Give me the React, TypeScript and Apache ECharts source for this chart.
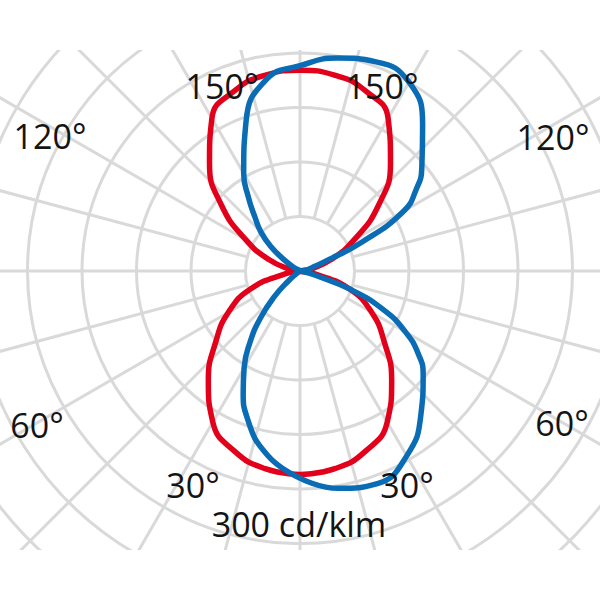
import { useEffect, useRef } from "react";
import * as echarts from "echarts";

// radial rings (cd/klm) and spoke angles (deg, 0 = downwards, clockwise)
const ringValues = [60, 120, 180, 240, 300, 360, 420, 480];
const spokeAngles = [0, 15, 30, 45, 60, 75, 90, 105, 120, 135, 150, 165, 180, 195, 210, 225, 240, 255, 270, 285, 300, 315, 330, 345];

// C0-C180 plane (red)
const redAngles = [0, 10, 20, 30, 40, 50, 60, 70, 80, 90, 100, 110, 120, 130, 140, 150, 160, 170, 180, 190, 200, 210, 220, 230, 240, 250, 260, 270, 280, 290, 300, 310, 320, 330, 340, 350];
const redValues = [224, 221, 211, 192, 157, 121, 91, 58, 15, 0, 11, 36, 69, 113, 155, 194, 211, 219, 221, 219, 211, 194, 155, 113, 69, 36, 11, 0, 15, 58, 91, 121, 157, 192, 211, 221];

// C90-C270 plane (blue)
const blueAngles = [0, 10, 20, 25, 30, 35, 40, 45, 50, 55, 60, 90, 115, 120, 125, 130, 135, 140, 145, 150, 160, 170, 180, 190, 200, 210, 220, 230, 235, 240, 245, 250, 255, 260, 270, 280, 285, 290, 295, 300, 305, 310, 320, 330, 340, 350];
const blueValues = [228, 206, 171, 148, 123, 96, 68, 40, 15, 4, 0, 0, 0, 6, 20, 42, 61, 77, 99, 124, 174, 214, 226, 238, 245, 240, 210, 175, 156, 132, 75, 26, 13, 9, 3, 4, 15, 59, 102, 134, 159, 177, 207, 235, 249, 243];

// angle labels and unit label
const angleLabelTexts = ["150°", "150°", "120°", "120°", "60°", "60°", "30°", "30°"];
const unitLabel = "300 cd/klm";

const labelPositions = [
  [222, 86], [382, 86], [50, 136], [553, 137], [37, 425], [562, 423], [193, 485], [407, 485],
];

const closeLoop = (angles: number[], values: number[]) => {
  const d = angles.map((a, i) => [values[i], a]);
  d.push([values[0], 360]);
  return d;
};

export default function App() {
  const ref = useRef<HTMLDivElement>(null);
  useEffect(() => {
    if (!ref.current) return;
    const chart = echarts.init(ref.current, undefined, { renderer: "svg" });
    const gridColor = "#d9d9d9";
    const font = "'Open Sans', 'Noto Sans', sans-serif";
    const labelEls: any[] = angleLabelTexts.map((t, i) => ({
      type: "text",
      x: labelPositions[i][0],
      y: labelPositions[i][1],
      z: 200,
      style: {
        text: t,
        fill: "#141414",
        font: `34px ${font}`,
        align: "center",
        verticalAlign: "middle",
      },
    }));
    labelEls.push({
      type: "text",
      x: 299,
      y: 524,
      z: 200,
      style: {
        text: unitLabel,
        fill: "#141414",
        font: `34px ${font}`,
        align: "center",
        verticalAlign: "middle",
      },
    });
    chart.setOption({
      animation: false,
      backgroundColor: "#ffffff",
      polar: { center: [300, 271], radius: [0, 436] },
      angleAxis: {
        type: "value",
        min: 0,
        max: 360,
        interval: 15,
        startAngle: -90,
        clockwise: true,
        axisLine: { show: false },
        axisTick: { show: false },
        axisLabel: { show: false },
        splitLine: { show: false },
      },
      radiusAxis: {
        type: "value",
        min: 0,
        max: ringValues[ringValues.length - 1],
        interval: 60,
        axisLine: { show: false },
        axisTick: { show: false },
        axisLabel: { show: false },
        splitLine: { show: true, lineStyle: { color: gridColor, width: 3 } },
      },
      series: [
        {
          type: "custom",
          coordinateSystem: "polar",
          z: 1,
          silent: true,
          data: spokeAngles.map((a) => [ringValues[ringValues.length - 1], a]),
          renderItem: (params: any, api: any) => {
            const a = api.value(1);
            const p0 = api.coord([ringValues[0], a]);
            const p1 = api.coord([ringValues[ringValues.length - 1], a]);
            return {
              type: "line",
              shape: { x1: p0[0], y1: p0[1], x2: p1[0], y2: p1[1] },
              style: { stroke: gridColor, lineWidth: 3 },
            };
          },
        },
        {
          type: "line",
          coordinateSystem: "polar",
          name: "C0-C180",
          z: 3,
          data: closeLoop(redAngles, redValues),
          showSymbol: false,
          smooth: 0.5,
          lineStyle: { color: "#e2001a", width: 5.5 },
        },
        {
          type: "line",
          coordinateSystem: "polar",
          name: "C90-C270",
          z: 4,
          data: closeLoop(blueAngles, blueValues),
          showSymbol: false,
          smooth: 0.5,
          lineStyle: { color: "#0a6cb4", width: 5.5 },
        },
      ],
      graphic: [
        { type: "rect", z: 150, shape: { x: 0, y: 0, width: 600, height: 50 }, style: { fill: "#ffffff" } },
        { type: "rect", z: 150, shape: { x: 0, y: 550, width: 600, height: 50 }, style: { fill: "#ffffff" } },
        ...labelEls,
      ],
    });
    return () => chart.dispose();
  }, []);
  return (
    <div
      ref={ref}
      style={{ position: "absolute", left: 0, top: 0, width: 600, height: 600 }}
    />
  );
}
